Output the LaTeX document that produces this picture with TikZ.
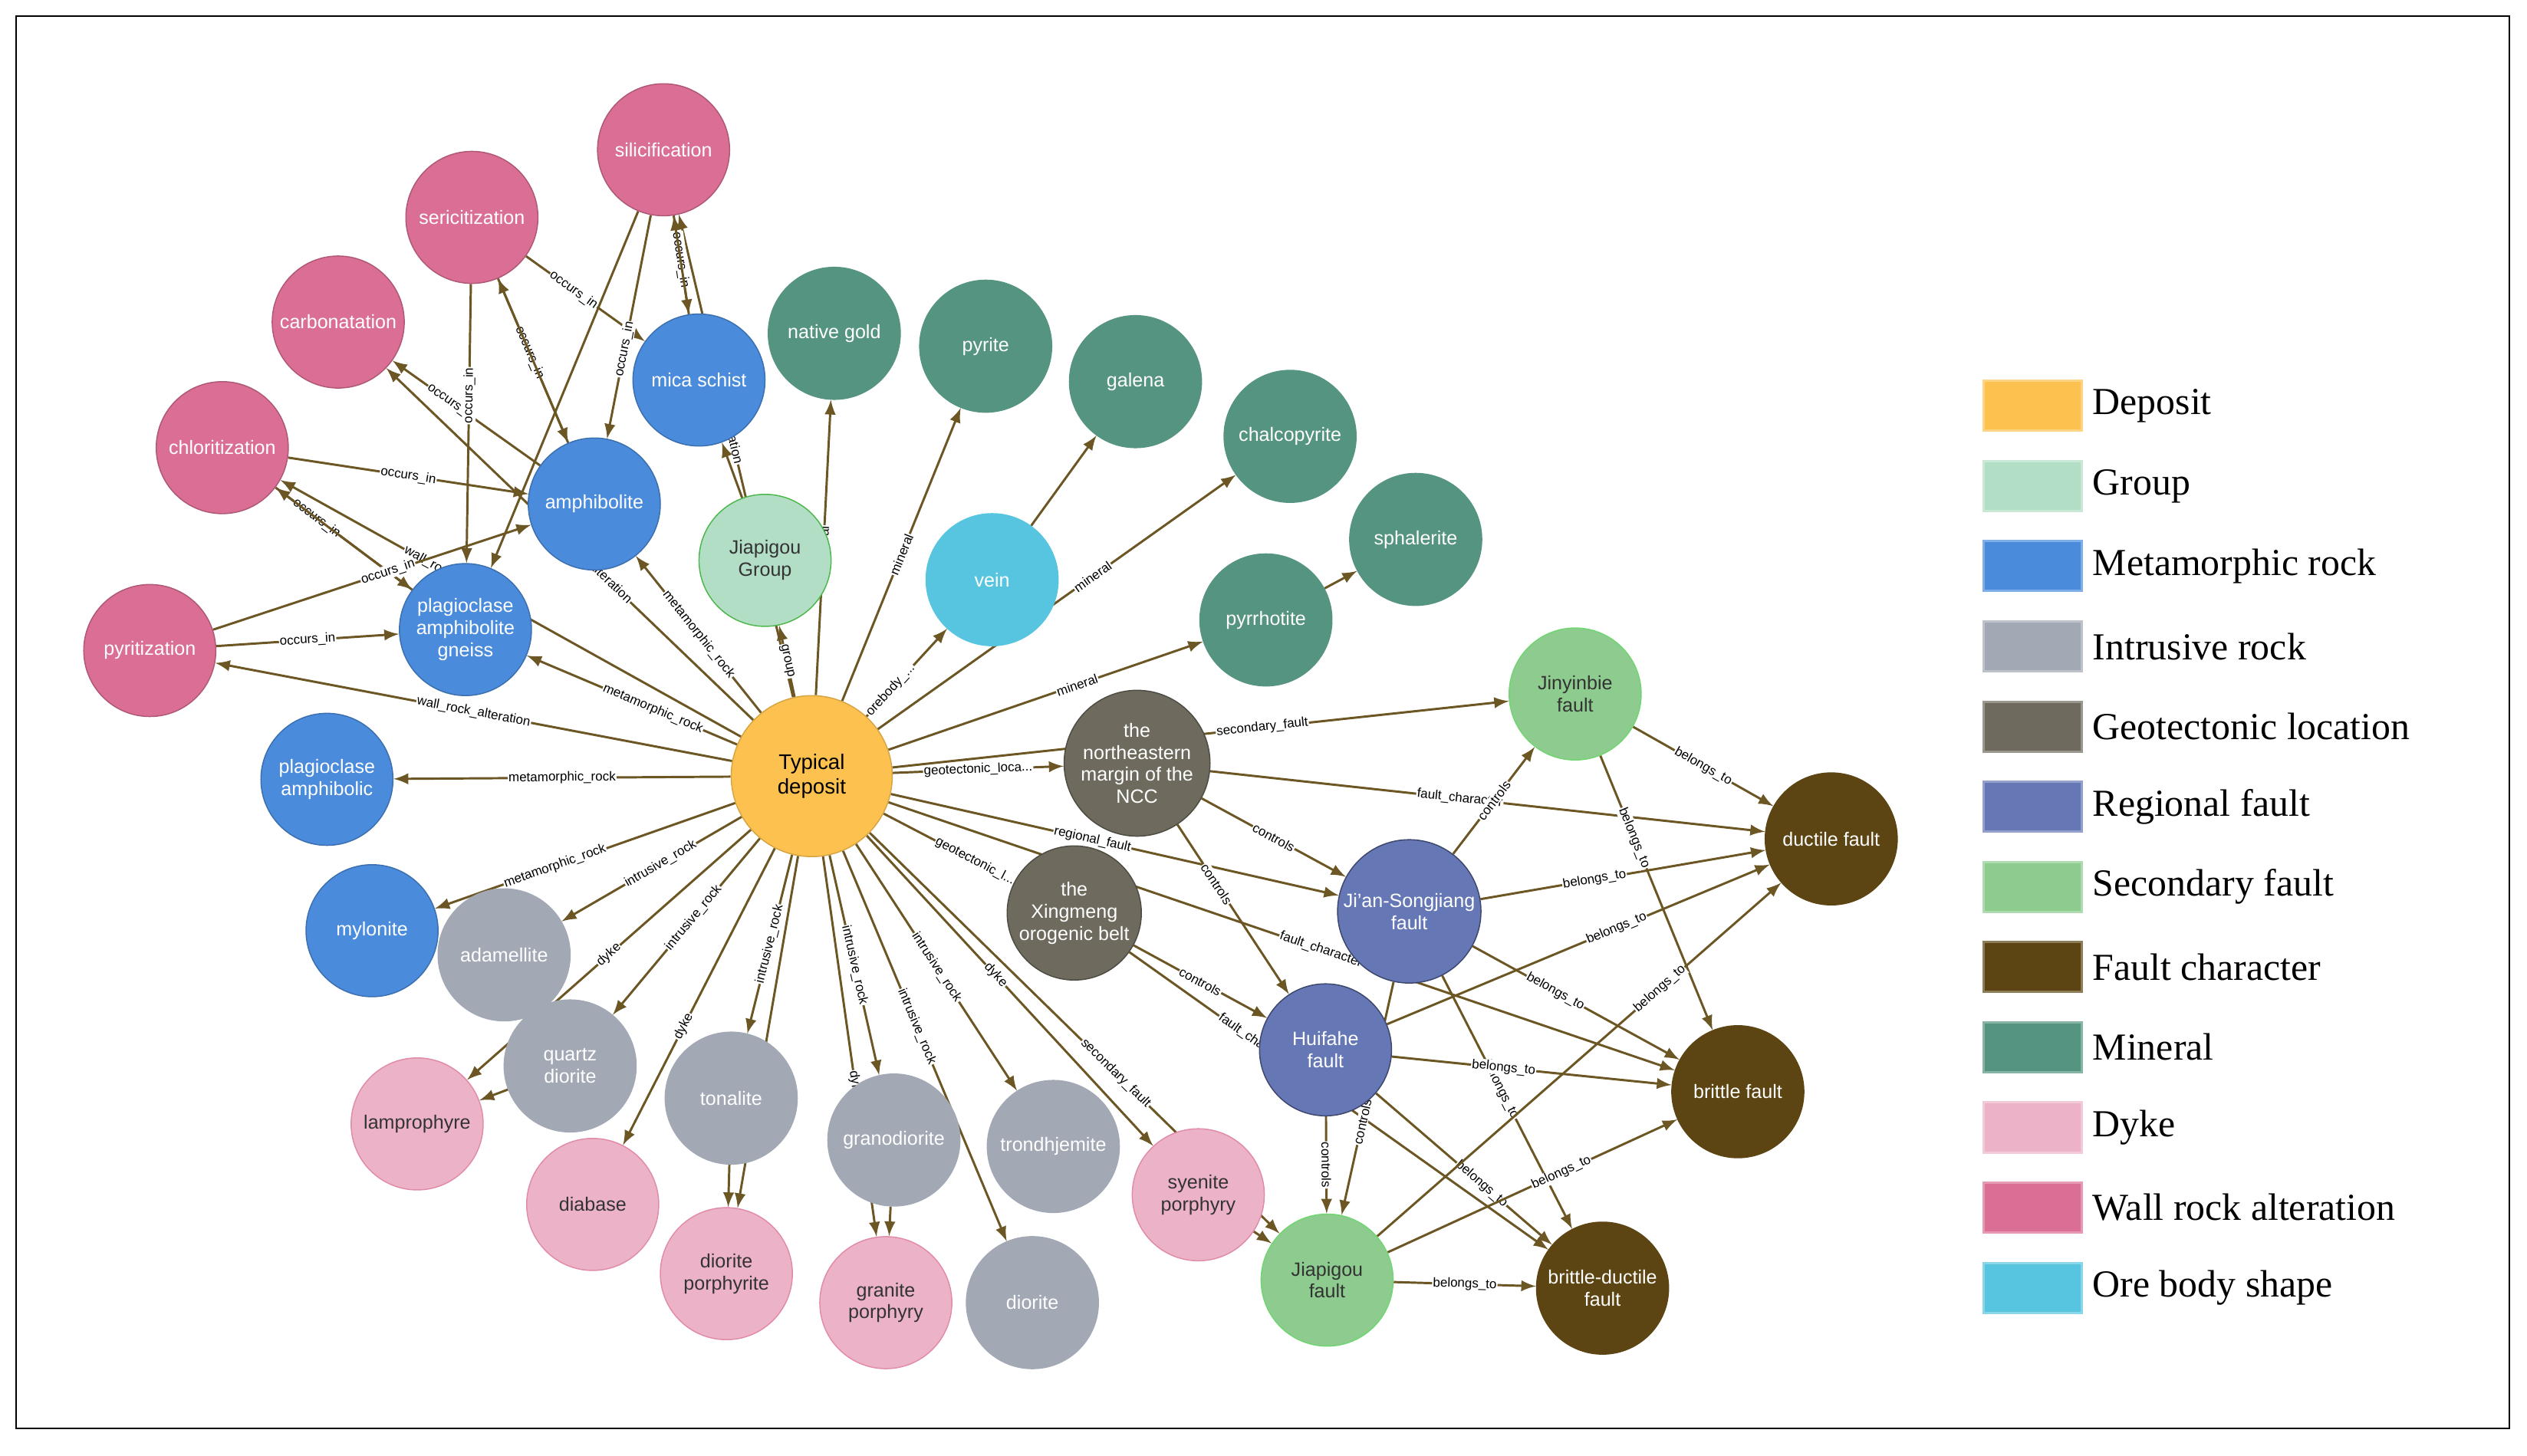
\documentclass[tikz,border=0pt]{standalone}
\usepackage{fontspec}
\setmainfont{Liberation Sans}
\newfontfamily\legfont{Liberation Serif}
\usetikzlibrary{positioning,backgrounds}
\definecolor{cDep}{HTML}{FDC14F}
\definecolor{cGrp}{HTML}{B3DEC6}
\definecolor{cMet}{HTML}{4A8BDB}
\definecolor{cInt}{HTML}{A2A8B4}
\definecolor{cGeo}{HTML}{6E6B5E}
\definecolor{cReg}{HTML}{6577B5}
\definecolor{cSec}{HTML}{8DCB8F}
\definecolor{cFlt}{HTML}{5C4512}
\definecolor{cMin}{HTML}{559480}
\definecolor{cDyk}{HTML}{ECB3C8}
\definecolor{cWal}{HTML}{DB6E94}
\definecolor{cOre}{HTML}{57C5E0}
\definecolor{cEdge}{HTML}{6B5624}

\begin{document}
\begin{tikzpicture}[x=0.02cm,y=-0.02cm,
	ent/.style={circle,minimum size=1.64cm,inner sep=1pt,align=center,font=\fontsize{6.8}{7.8}\selectfont,text=white},
	dep/.style={ent,fill=cDep,draw=cDep!85!black,text=black,minimum size=2cm,font=\fontsize{7.5}{8.5}\selectfont},
	grp/.style={ent,fill=cGrp,draw=green!60!black!70,text=black!80},
	met/.style={ent,fill=cMet,draw=cMet!80!black},
	int/.style={ent,fill=cInt,draw=cInt},
	geo/.style={ent,fill=cGeo,draw=cGeo!70!black},
	reg/.style={ent,fill=cReg,draw=cReg!60!black},
	sec/.style={ent,fill=cSec,draw=cSec!80!green,text=black!80},
	flt/.style={ent,fill=cFlt,draw=cFlt},
	mnr/.style={ent,fill=cMin,draw=cMin},
	dyk/.style={ent,fill=cDyk,draw=cWal!80,text=black!80},
	wal/.style={ent,fill=cWal,draw=cWal!80!black},
	ore/.style={ent,fill=cOre,draw=cOre},
	edge/.style={-latex,draw=cEdge,thick},
	elab/.style={sloped,fill=white,inner sep=0.3pt,font=\fontsize{4.6}{5}\selectfont},
	key/.style={minimum width=1.22cm,minimum height=0.62cm,draw=#1!70,fill=#1,line width=0.8pt},
	keytext/.style={right,font=\legfont\fontsize{13.5}{15}\selectfont}]
\useasboundingbox (0,0) rectangle (1569,904);
\draw (10,10) rectangle (1558,887);

% deposit and neighbours
\node[dep] (deposit) at (504,482) {Typical\\deposit};
\node[wal] (silic)  at (412,93)  {silicification};
\node[wal] (seric)  at (293,135) {sericitization};
\node[wal] (carbo)  at (210,200) {carbonatation};
\node[wal] (chlor)  at (138,278) {chloritization};
\node[wal] (pyrit)  at (93,404)  {pyritization};
\node[met] (mica)   at (434,236) {mica schist};
\node[met] (amph)   at (369,313) {amphibolite};
\node[met] (pagn)   at (289,391) {plagioclase\\amphibolite\\gneiss};
\node[met] (pamc)   at (203,484) {plagioclase\\amphibolic};
\node[met] (mylo)   at (231,578) {mylonite};
\node[grp] (jgrp)   at (475,348) {Jiapigou\\Group};
\node[mnr] (gold)   at (518,207) {native gold};
\node[mnr] (pyrite) at (612,215) {pyrite};
\node[mnr] (galena) at (705,237) {galena};
\node[mnr] (chalco) at (801,271) {chalcopyrite};
\node[mnr] (sphal)  at (879,335) {sphalerite};
\node[mnr] (pyrrh)  at (786,385) {pyrrhotite};
\node[ore] (vein)   at (616,360) {vein};
\node[geo] (ncc)    at (706,474) {the\\northeastern\\margin of the\\NCC};
\node[geo] (xing)   at (667,567) {the\\Xingmeng\\orogenic belt};
% faults
\node[sec] (jinyin) at (978,431) {Jinyinbie\\fault};
\node[flt] (ductile) at (1137,521) {ductile fault};
\node[reg] (jian)   at (875,566) {Ji'an-Songjiang\\fault};
\node[reg] (huifa)  at (823,652) {Huifahe\\fault};
\node[flt] (brittle) at (1079,678) {brittle fault};
\node[sec] (jfault) at (824,795) {Jiapigou\\fault};
\node[flt] (bduct)  at (995,800) {brittle-ductile\\fault};
% intrusive rocks and dykes
\node[int] (adam)   at (313,593) {adamellite};
\node[int] (qdior)  at (354,662) {quartz\\diorite};
\node[dyk] (lamp)   at (259,698) {lamprophyre};
\node[dyk] (diab)   at (368,748) {diabase};
\node[int] (tona)   at (454,682) {tonalite};
\node[dyk] (dporph) at (451,791) {diorite\\porphyrite};
\node[int] (grano)  at (555,708) {granodiorite};
\node[dyk] (gporph) at (550,809) {granite\\porphyry};
\node[int] (trond)  at (654,712) {trondhjemite};
\node[int] (dior)   at (641,809) {diorite};
\node[dyk] (sporph) at (744,742) {syenite\\porphyry};

\begin{scope}[on background layer]
\draw[edge] (deposit) -- node[elab]{wall\_rock\_alteration} (pyrit);
\draw[edge] (deposit) -- node[elab,pos=0.4]{metamorphic\_rock} (pagn);
\draw[edge] (deposit) -- node[elab,pos=0.5]{metamorphic\_rock} (amph);
\draw[edge] (deposit) -- node[elab,pos=0.62]{wall\_rock\_alteration} (chlor);
\draw[edge] (deposit) -- node[elab,pos=0.45]{wall\_rock\_alteration} (carbo);
\draw[edge] (deposit) -- node[elab,pos=0.6]{wall\_rock\_alteration} (silic);
\draw[edge] (deposit) -- node[elab]{group} (jgrp);
\draw[edge] (jgrp) -- (mica);
\draw[edge] (deposit) -- node[elab]{mineral} (gold);
\draw[edge] (deposit) -- node[elab]{mineral} (pyrite);
\draw[edge] (deposit) -- node[elab,pos=0.3]{orebody\_...} (vein);
\draw[edge] (vein) -- (galena);
\draw[edge] (deposit) -- node[elab,pos=0.6]{mineral} (chalco);
\draw[edge] (deposit) -- node[elab,pos=0.6]{mineral} (pyrrh);
\draw[edge] (pyrrh) -- (sphal);
\draw[edge] (deposit) -- node[elab]{metamorphic\_rock} (pamc);
\draw[edge] (deposit) -- node[elab,pos=0.6]{metamorphic\_rock} (mylo);
\draw[edge] (deposit) -- node[elab,pos=0.45]{intrusive\_rock} (adam);
\draw[edge] (deposit) -- node[elab,pos=0.5]{dyke} (lamp);
\draw[edge] (deposit) -- node[elab,pos=0.45]{intrusive\_rock} (qdior);
\draw[edge] (deposit) -- node[elab,pos=0.6]{dyke} (diab);
\draw[edge] (deposit) -- node[elab,pos=0.5]{intrusive\_rock} (tona);
\draw[edge] (deposit) -- node[elab,pos=0.6]{dyke} (dporph);
\draw[edge] (deposit) -- node[elab,pos=0.5]{intrusive\_rock} (grano);
\draw[edge] (deposit) -- node[elab,pos=0.6]{dyke} (gporph);
\draw[edge] (deposit) -- node[elab,pos=0.5]{intrusive\_rock} (trond);
\draw[edge] (deposit) -- node[elab,pos=0.45]{intrusive\_rock} (dior);
\draw[edge] (deposit) -- node[elab,pos=0.45]{dyke} (sporph);
\draw[edge] (tona) -- (dporph);
\draw[edge] (grano) -- (gporph);
\draw[edge] (qdior) -- (lamp);
\draw[edge] (sporph) -- (jfault);
% wall rock alteration occurrences
\draw[edge] (seric) -- node[elab,pos=0.4]{occurs\_in} (mica);
\draw[edge] (silic) -- node[elab,pos=0.45]{occurs\_in} (mica);
\draw[edge] (mica) -- (silic);
\draw[edge] (silic) -- node[elab,pos=0.6]{occurs\_in} (amph);
\draw[edge] (seric) -- node[elab,pos=0.45]{occurs\_in} (amph);
\draw[edge] (amph) -- (seric);
\draw[edge] (amph) -- node[elab,pos=0.6]{occurs\_in} (carbo);
\draw[edge] (chlor) -- node[elab]{occurs\_in} (amph);
\draw[edge] (chlor) -- node[elab,pos=0.3]{occurs\_in} (pagn);
\draw[edge] (pagn) -- (chlor);
\draw[edge] (pyrit) -- node[elab,pos=0.55]{occurs\_in} (amph);
\draw[edge] (pyrit) -- node[elab]{occurs\_in} (pagn);
\draw[edge] (seric) -- node[elab,pos=0.4]{occurs\_in} (pagn);
\draw[edge] (silic) -- (pagn);
% tectonics and faults
\draw[edge] (deposit) -- node[elab]{geotectonic\_loca...} (ncc);
\draw[edge] (deposit) -- node[elab,pos=0.7]{geotectonic\_l...} (xing);
\draw[edge] (deposit) -- node[elab,pos=0.6]{secondary\_fault} (jinyin);
\draw[edge] (deposit) -- node[elab,pos=0.45]{regional\_fault} (jian);
\draw[edge] (deposit) -- node[elab,pos=0.6]{secondary\_fault} (jfault);
\draw[edge] (deposit) -- node[elab,pos=0.55]{fault\_character} (brittle);
\draw[edge] (ncc) -- node[elab,pos=0.45]{fault\_character} (ductile);
\draw[edge] (ncc) -- node[elab]{controls} (jian);
\draw[edge] (ncc) -- node[elab,pos=0.35]{controls} (huifa);
\draw[edge] (xing) -- node[elab]{controls} (huifa);
\draw[edge] (xing) -- node[elab,pos=0.3]{fault\_character} (bduct);
\draw[edge] (jian) -- node[elab]{controls} (jinyin);
\draw[edge] (jian) -- node[elab,pos=0.4]{belongs\_to} (ductile);
\draw[edge] (jian) -- node[elab,pos=0.4]{belongs\_to} (brittle);
\draw[edge] (jian) -- node[elab,pos=0.45]{belongs\_to} (bduct);
\draw[edge] (jian) -- node[elab,pos=0.6]{controls} (jfault);
\draw[edge] (huifa) -- node[elab]{controls} (jfault);
\draw[edge] (huifa) -- node[elab,pos=0.4]{belongs\_to} (brittle);
\draw[edge] (huifa) -- node[elab,pos=0.6]{belongs\_to} (ductile);
\draw[edge] (huifa) -- node[elab,pos=0.6]{belongs\_to} (bduct);
\draw[edge] (jinyin) -- node[elab]{belongs\_to} (ductile);
\draw[edge] (jinyin) -- node[elab,pos=0.3]{belongs\_to} (brittle);
\draw[edge] (jfault) -- node[elab]{belongs\_to} (bduct);
\draw[edge] (jfault) -- node[elab,pos=0.7]{belongs\_to} (ductile);
\draw[edge] (jfault) -- node[elab,pos=0.6]{belongs\_to} (brittle);
\end{scope}

% legend
\foreach \c [count=\i] in {cDep,cGrp,cMet,cInt,cGeo,cReg,cSec,cFlt,cMin,cDyk,cWal,cOre}
	\node[key=\c] (key\i) at (1262,{252+49.8*(\i-1)}) {};
\foreach \t [count=\i] in {Deposit,Group,Metamorphic rock,Intrusive rock,Geotectonic location,Regional fault,Secondary fault,Fault character,Mineral,Dyke,Wall rock alteration,Ore body shape}
	\node[keytext] (keyt\i) at (key\i.east) {\t};
\end{tikzpicture}
\end{document}
